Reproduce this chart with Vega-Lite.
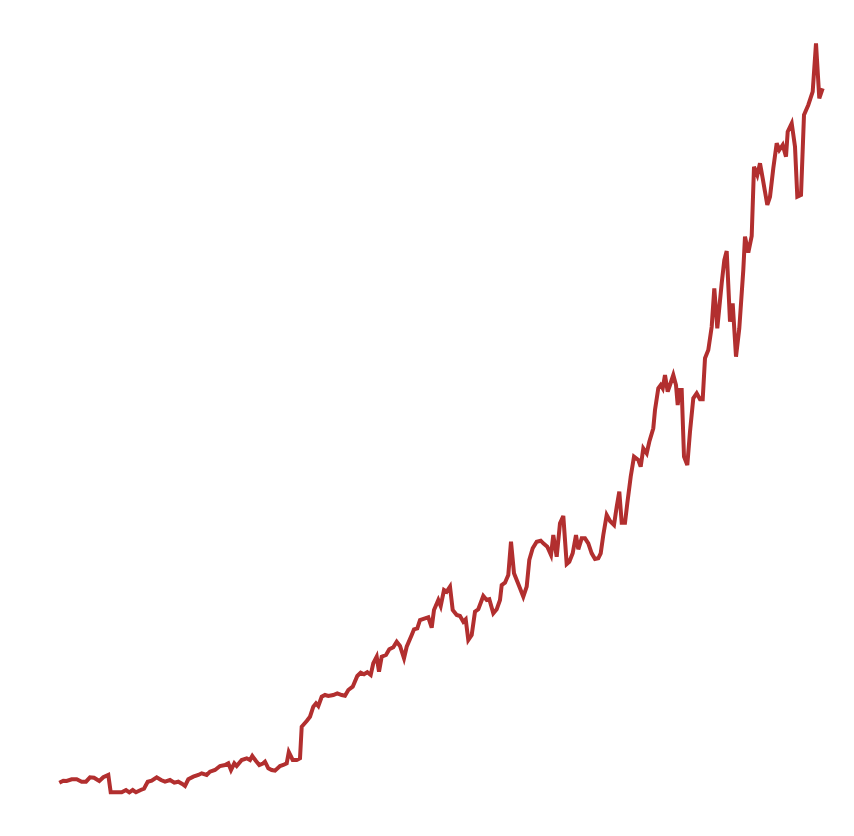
{
  "$schema": "https://vega.github.io/schema/vega-lite/v6.json",
  "width": 854,
  "height": 836,
  "autosize": {"type": "fit", "contains": "padding"},
  "padding": 0,
  "background": "#ffffff",
  "config": {"view": {"stroke": null}},
  "data": {
    "values": [
      {"t": 59.3, "v": 53.3}, {"t": 63.3, "v": 55.3}, {"t": 66.7, "v": 55}, {"t": 71.7, "v": 56.7},
      {"t": 76.7, "v": 56.7}, {"t": 81.7, "v": 54.3}, {"t": 86, "v": 54.3}, {"t": 90, "v": 58.7},
      {"t": 94, "v": 58.3}, {"t": 99.3, "v": 55}, {"t": 103.3, "v": 58.7}, {"t": 108.3, "v": 61},
      {"t": 110.7, "v": 43.7}, {"t": 116.7, "v": 43.7}, {"t": 121.7, "v": 43.7}, {"t": 126, "v": 46},
      {"t": 129.3, "v": 43.7}, {"t": 132.7, "v": 46}, {"t": 136, "v": 43.7}, {"t": 140.7, "v": 46},
      {"t": 144, "v": 47.3}, {"t": 147.7, "v": 54.3}, {"t": 151.7, "v": 55.3}, {"t": 156.7, "v": 58.7},
      {"t": 161, "v": 56}, {"t": 165, "v": 54.3}, {"t": 170, "v": 56}, {"t": 174.3, "v": 53.3},
      {"t": 178.3, "v": 54.3}, {"t": 182.3, "v": 52}, {"t": 185, "v": 50}, {"t": 188.3, "v": 56.7},
      {"t": 193.3, "v": 59.3}, {"t": 198.3, "v": 61}, {"t": 201.7, "v": 62.7}, {"t": 206.7, "v": 61},
      {"t": 210, "v": 64.3}, {"t": 215, "v": 66}, {"t": 220, "v": 70}, {"t": 225, "v": 71},
      {"t": 228.3, "v": 72.7}, {"t": 231, "v": 66}, {"t": 234.3, "v": 72.7}, {"t": 236.7, "v": 70},
      {"t": 241.7, "v": 76}, {"t": 246.7, "v": 77.7}, {"t": 250, "v": 76}, {"t": 252.3, "v": 80},
      {"t": 256, "v": 75}, {"t": 259.3, "v": 71}, {"t": 263.3, "v": 72.7}, {"t": 265, "v": 74.3},
      {"t": 268.3, "v": 67.7}, {"t": 271.7, "v": 66}, {"t": 275, "v": 65.3}, {"t": 280, "v": 70},
      {"t": 283.3, "v": 71}, {"t": 286.7, "v": 72.7}, {"t": 288.8, "v": 84}, {"t": 292.7, "v": 76},
      {"t": 296.7, "v": 76}, {"t": 300, "v": 77.7}, {"t": 301.7, "v": 109.3}, {"t": 306.7, "v": 115},
      {"t": 310, "v": 119.3}, {"t": 313.3, "v": 129.3}, {"t": 316, "v": 132.7}, {"t": 318.3, "v": 130},
      {"t": 321.7, "v": 139.3}, {"t": 325, "v": 141}, {"t": 328.3, "v": 140}, {"t": 333.3, "v": 141},
      {"t": 337.3, "v": 142.7}, {"t": 341.7, "v": 141}, {"t": 345, "v": 140.3}, {"t": 348.3, "v": 146},
      {"t": 352.7, "v": 149.3}, {"t": 357.3, "v": 160}, {"t": 360.7, "v": 163.3}, {"t": 364, "v": 161.7},
      {"t": 367.3, "v": 163.7}, {"t": 370.7, "v": 161}, {"t": 373.3, "v": 172.7}, {"t": 376.7, "v": 179.3},
      {"t": 379, "v": 164.3}, {"t": 381.7, "v": 179.3}, {"t": 386, "v": 181}, {"t": 389.3, "v": 186.7},
      {"t": 393.3, "v": 188.7}, {"t": 396.7, "v": 194.3}, {"t": 400, "v": 190}, {"t": 404, "v": 177.7},
      {"t": 406.7, "v": 189.3}, {"t": 411.7, "v": 201}, {"t": 414, "v": 206.7}, {"t": 417.3, "v": 207.7},
      {"t": 420, "v": 216}, {"t": 425, "v": 217.7}, {"t": 428.3, "v": 218.7}, {"t": 431.7, "v": 208.3},
      {"t": 434, "v": 226}, {"t": 438.3, "v": 236}, {"t": 440.7, "v": 230}, {"t": 444, "v": 246},
      {"t": 446.7, "v": 244.3}, {"t": 450, "v": 249.3}, {"t": 452.7, "v": 226}, {"t": 456.7, "v": 221},
      {"t": 460, "v": 220}, {"t": 463.3, "v": 214.3}, {"t": 465.7, "v": 216.7}, {"t": 468.3, "v": 196},
      {"t": 471.7, "v": 201}, {"t": 475, "v": 224.3}, {"t": 478.3, "v": 226.7}, {"t": 483.3, "v": 240},
      {"t": 486.7, "v": 236}, {"t": 489.3, "v": 236.7}, {"t": 493.3, "v": 222.7}, {"t": 496.7, "v": 226.7},
      {"t": 500, "v": 236}, {"t": 501.7, "v": 251}, {"t": 505, "v": 253.3}, {"t": 508.3, "v": 261},
      {"t": 511, "v": 294.3}, {"t": 514, "v": 262.7}, {"t": 516.7, "v": 256}, {"t": 520, "v": 247.7},
      {"t": 523.3, "v": 239.3}, {"t": 526.7, "v": 249.3}, {"t": 529.3, "v": 276}, {"t": 532.7, "v": 287.7},
      {"t": 536.7, "v": 294.3}, {"t": 540.7, "v": 295.3}, {"t": 543.3, "v": 292.7}, {"t": 547.3, "v": 289.3},
      {"t": 551, "v": 281}, {"t": 553.3, "v": 301}, {"t": 556.7, "v": 279.3}, {"t": 560, "v": 312.7},
      {"t": 563.3, "v": 320}, {"t": 566.7, "v": 272}, {"t": 569.3, "v": 274.3}, {"t": 572.7, "v": 282.7},
      {"t": 576, "v": 301}, {"t": 578.3, "v": 286.7}, {"t": 581.7, "v": 297.7}, {"t": 585, "v": 297.7},
      {"t": 588.3, "v": 292.7}, {"t": 591.7, "v": 282.7}, {"t": 595, "v": 277}, {"t": 598.3, "v": 277.7},
      {"t": 600.7, "v": 282.7}, {"t": 603.3, "v": 301}, {"t": 606.7, "v": 321}, {"t": 610, "v": 315},
      {"t": 614, "v": 311}, {"t": 616.7, "v": 329.3}, {"t": 619.3, "v": 344.3}, {"t": 621.7, "v": 313.3},
      {"t": 625, "v": 313.3}, {"t": 627.3, "v": 332.7}, {"t": 630.7, "v": 359.3}, {"t": 634, "v": 379.3},
      {"t": 638.3, "v": 376}, {"t": 640.7, "v": 369.3}, {"t": 643.3, "v": 387.7}, {"t": 646.7, "v": 382.7},
      {"t": 649.3, "v": 394.3}, {"t": 653.3, "v": 407.7}, {"t": 655, "v": 426}, {"t": 658.3, "v": 447.7},
      {"t": 660.7, "v": 451}, {"t": 662.7, "v": 447.7}, {"t": 665, "v": 461}, {"t": 667.7, "v": 444.3},
      {"t": 670, "v": 451}, {"t": 673.3, "v": 461}, {"t": 676, "v": 451}, {"t": 677.7, "v": 431},
      {"t": 679.3, "v": 446}, {"t": 681.7, "v": 446}, {"t": 684, "v": 379.3}, {"t": 687.3, "v": 371},
      {"t": 690, "v": 404.3}, {"t": 693.3, "v": 437.7}, {"t": 696.7, "v": 442.7}, {"t": 700, "v": 436.7},
      {"t": 702.7, "v": 436.7}, {"t": 705, "v": 477.7}, {"t": 708.3, "v": 486}, {"t": 711.7, "v": 509.3},
      {"t": 714.3, "v": 547.7}, {"t": 717.3, "v": 507.7}, {"t": 721.7, "v": 552.7}, {"t": 724.3, "v": 576},
      {"t": 726.7, "v": 585}, {"t": 730, "v": 514.3}, {"t": 732.7, "v": 532.7}, {"t": 736, "v": 479.3},
      {"t": 739.3, "v": 507.7}, {"t": 743.3, "v": 566}, {"t": 745, "v": 599.3}, {"t": 748.3, "v": 583.3},
      {"t": 751.7, "v": 600}, {"t": 754, "v": 669.3}, {"t": 757.3, "v": 661}, {"t": 760, "v": 672.7},
      {"t": 762.7, "v": 657.7}, {"t": 767.3, "v": 631}, {"t": 770, "v": 639.3}, {"t": 773.3, "v": 667.7},
      {"t": 776.7, "v": 692.7}, {"t": 779.3, "v": 686}, {"t": 782.7, "v": 691}, {"t": 786, "v": 679.3},
      {"t": 787.7, "v": 704.3}, {"t": 791.7, "v": 712.7}, {"t": 795, "v": 689.3}, {"t": 797.3, "v": 639.3},
      {"t": 801, "v": 641}, {"t": 804, "v": 721}, {"t": 808.3, "v": 731}, {"t": 812.7, "v": 744.3},
      {"t": 816, "v": 792.7}, {"t": 819.3, "v": 737.7}, {"t": 822.7, "v": 747.7}
    ]
  },
  "mark": {"type": "line", "color": "#b22f2f", "strokeWidth": 4, "strokeJoin": "miter"},
  "encoding": {
    "x": {"field": "t", "type": "quantitative", "scale": {"domain": [0, 854], "nice": false, "zero": false}, "axis": null},
    "y": {"field": "v", "type": "quantitative", "scale": {"domain": [0, 836], "nice": false, "zero": false}, "axis": null}
  }
}
